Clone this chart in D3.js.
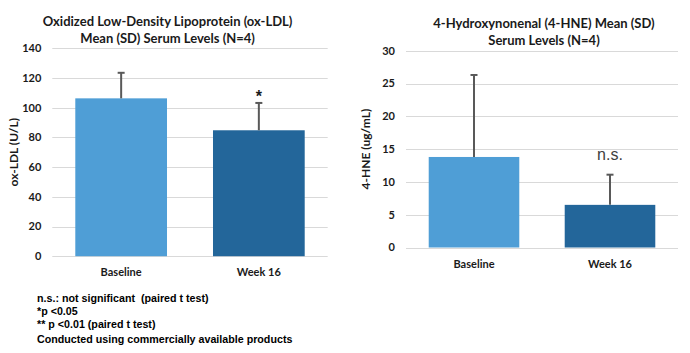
<!DOCTYPE html>
<html><head><meta charset="utf-8">
<script src="https://cdn.jsdelivr.net/npm/d3@7"></script>
<style>body{margin:0;background:#fff}svg{display:block}text{white-space:pre}</style>
</head><body>
<script>
// ---- data ----
const categories = ["Baseline", "Week 16"];
const oxldlMean = [106.3, 84.8];
const oxldlSD = [17.2, 18.4];
const oxldlTicks = [0, 20, 40, 60, 80, 100, 120, 140];
const hneMean = [13.8, 6.5];
const hneSD = [12.5, 4.6];
const hneTicks = [0, 5, 10, 15, 20, 25, 30];
const oxldlMarks = ["", "*"];
const hneMarks = ["", "n.s."];
const footnotes = [
  "n.s.: not significant  (paired t test)",
  "*p <0.05",
  "** p <0.01 (paired t test)",
  "Conducted using commercially available products"
];
const barColors = ["#4F9ED6", "#23669A"];

const svg = d3.select("body").append("svg").attr("width", 690).attr("height", 353);
const calibri = "Lato, 'Open Sans', sans-serif";

function chart(cfg) {
  const g = svg.append("g");
  const y = d3.scaleLinear().domain([0, cfg.ymax]).range([cfg.y0, cfg.y1]);
  const x = d3.scaleBand().domain(categories).range([cfg.x0, cfg.x1]).paddingInner(0.334).paddingOuter(0.167);
  g.selectAll("line.grid").data(cfg.ticks).join("line")
    .attr("x1", cfg.x0).attr("x2", cfg.x1)
    .attr("y1", d => Math.round(y(d)) + 0.5).attr("y2", d => Math.round(y(d)) + 0.5)
    .attr("stroke", "#D9D9D9").attr("stroke-width", 1);
  g.selectAll("text.tick").data(cfg.ticks).join("text")
    .attr("x", cfg.x0 - 11).attr("y", d => y(d)).attr("dy", "0.35em")
    .attr("text-anchor", "end").attr("font-family", calibri).attr("font-weight", "bold")
    .attr("font-size", 11).attr("fill", "#1a1a1a").text(d => d);
  g.selectAll("rect.bar").data(cfg.mean).join("rect")
    .attr("x", (d, i) => x(categories[i])).attr("width", x.bandwidth())
    .attr("y", d => y(d)).attr("height", d => y(0) - y(d))
    .attr("fill", (d, i) => barColors[i]);
  cfg.mean.forEach((m, i) => {
    const cx = x(categories[i]) + x.bandwidth() / 2;
    g.append("line").attr("x1", cx).attr("x2", cx).attr("y1", y(m)).attr("y2", y(m + cfg.sd[i]))
      .attr("stroke", "#595959").attr("stroke-width", 2);
    g.append("line").attr("x1", cx - 3.5).attr("x2", cx + 3.5).attr("y1", y(m + cfg.sd[i])).attr("y2", y(m + cfg.sd[i]))
      .attr("stroke", "#595959").attr("stroke-width", 2);
  });
  g.selectAll("text.cat").data(categories).join("text")
    .attr("x", d => x(d) + x.bandwidth() / 2).attr("y", cfg.y0 + 20)
    .attr("text-anchor", "middle").attr("font-family", calibri).attr("font-weight", "bold")
    .attr("font-size", 11).attr("fill", "#1a1a1a").text(d => d);
  cfg.marks.forEach((t, i) => {
    if (!t) return;
    const cx = x(categories[i]) + x.bandwidth() / 2;
    const el = g.append("text").attr("x", cx).attr("text-anchor", "middle").text(t);
    if (t === "*") {
      el.attr("y", y(cfg.mean[i] + cfg.sd[i]) - 1).attr("font-family", "'Liberation Sans', Arial, sans-serif")
        .attr("font-weight", "bold").attr("font-size", 16).attr("fill", "#1a1a1a");
    } else {
      el.attr("y", y(cfg.mean[i] + cfg.sd[i]) - 15).attr("font-family", "'Liberation Sans', Arial, sans-serif")
        .attr("font-size", 16).attr("fill", "#404040");
    }
  });
  cfg.title.forEach((t, i) => {
    g.append("text").attr("x", cfg.titleX).attr("y", cfg.titleY + i * 16.5).attr("dy", "0.35em")
      .attr("text-anchor", "middle").attr("font-family", calibri).attr("font-weight", "bold")
      .attr("font-size", 13).attr("fill", "#1a1a1a").text(t);
  });
  g.append("text").attr("transform", `translate(${cfg.ytx},${(cfg.y0 + cfg.y1) / 2}) rotate(-90)`)
    .attr("dy", "0.35em").attr("text-anchor", "middle").attr("font-family", calibri)
    .attr("font-weight", "bold").attr("font-size", 12).attr("fill", "#1a1a1a").text(cfg.ylabel);
}

chart({x0: 52.3, x1: 327.7, y0: 256.2, y1: 48.3, ymax: 140, ticks: oxldlTicks,
  mean: oxldlMean, sd: oxldlSD, marks: oxldlMarks,
  title: ["Oxidized Low-Density Lipoprotein (ox-LDL)", "Mean (SD) Serum Levels (N=4)"],
  titleX: 167.6, titleY: 21.5, ylabel: "ox-LDL (U/L)", ytx: 14});

chart({x0: 406, x1: 678, y0: 247.5, y1: 50.7, ymax: 30, ticks: hneTicks,
  mean: hneMean, sd: hneSD, marks: hneMarks,
  title: ["4-Hydroxynonenal (4-HNE) Mean (SD)", "Serum Levels (N=4)"],
  titleX: 544, titleY: 23.5, ylabel: "4-HNE (ug/mL)", ytx: 366});

const fy = [298.3, 311.3, 324.6, 339];
svg.selectAll("text.fn").data(footnotes).join("text")
  .attr("x", 37).attr("y", (d, i) => fy[i]).attr("dy", "0.35em")
  .attr("font-family", "'Liberation Sans', Arial, sans-serif").attr("font-weight", "bold")
  .attr("font-size", 10.7).attr("fill", "#000").text(d => d);
</script>
</body></html>
